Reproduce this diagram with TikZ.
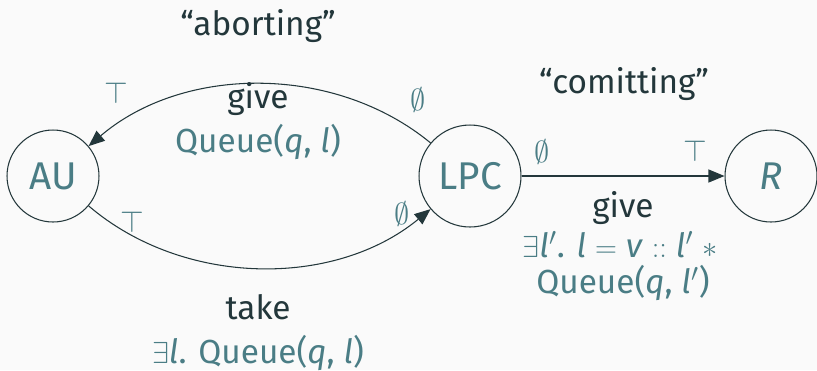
\documentclass[tikz,border=0pt]{standalone}
\usepackage{fontspec}
\setmainfont{Fira Sans}
\usetikzlibrary{arrows.meta}
\definecolor{QDark}{HTML}{23373B}
\definecolor{QTeal}{HTML}{4A7D85}
\definecolor{QBack}{HTML}{FAFAFA}
\newcommand{\qv}[1]{\textit{#1}}

\begin{document}
\begin{tikzpicture}[
    x=0.02cm,y=-0.02cm,
    state/.style={circle,draw=QDark,line width=0.6pt,minimum size=1.84cm,
      inner sep=0pt,text=QTeal,font=\fontsize{22}{26}\selectfont},
    trans/.style={-{Triangle[length=3.2mm,width=2.6mm]},draw=QDark,
      line width=0.6pt},
    act/.style={anchor=base,text=QDark,inner sep=0pt,
      font=\fontsize{19}{23}\selectfont},
    pred/.style={anchor=base,text=QTeal,inner sep=0pt,
      font=\fontsize{19}{23}\selectfont},
    flag/.style={text=QTeal,inner sep=0pt,font=\fontsize{19}{23}\selectfont}
  ]
    \fill[QBack] (0,0) rectangle (817,370);
    \useasboundingbox (0,0) rectangle (817,370);

    \node[state] (au) at (53,176) {AU};
    \node[state,minimum size=2.04cm] (lpc) at (470,176) {LPC};
    \node[state] (r) at (771,176) {\qv{R}};

    \draw[trans] (lpc) to[bend right=40,looseness=0.93] (au);
    \draw[trans] (au) to[bend right=40,looseness=0.93] (lpc);
    \draw[trans] (lpc) -- (r);

    % aborting
    \node[act] (abort) at (258,35) {“aborting”};
    \node[act] (give1) at (258,108) {give};
    \node[pred] (queue1) at (258,152) {Queue(\qv{q}, \qv{l})};
    \node[flag] (top1) at (116,93) {$\top$};
    \node[flag] (none1) at (418,100) {$\emptyset$};

    % take
    \node[flag] (top2) at (132,222) {$\top$};
    \node[flag] (none2) at (402,214) {$\emptyset$};
    \node[act] (take) at (258,319) {take};
    \node[pred] (queue2) at (258,363) {$\exists$\qv{l}. Queue(\qv{q}, \qv{l})};

    % comitting
    \node[act] (commit) at (624,93) {“comitting”};
    \node[flag] (none3) at (542,152) {$\emptyset$};
    \node[flag] (top3) at (695,151) {$\top$};
    \node[act] (give2) at (623,217) {give};
    \node[pred] (cons) at (620,257)
      {$\exists$\qv{l}$'$. \qv{l} $=$ \qv{v} $::$ \qv{l}$'$ $\ast$};
    \node[pred] (queue3) at (623,293) {Queue(\qv{q}, \qv{l}$'$)};
  \end{tikzpicture}
\end{document}
